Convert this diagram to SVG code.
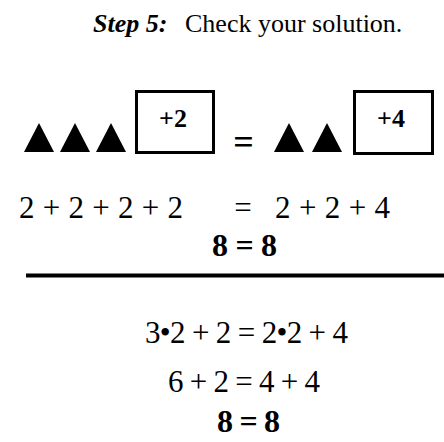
<svg xmlns="http://www.w3.org/2000/svg" width="444" height="442" viewBox="0 0 444 442">
<style>
.t{font-family:"Liberation Serif","Times New Roman",serif;fill:#000}
.b{font-weight:bold}
.tri{fill:#000}
.box{fill:#fff;stroke:#000;stroke-width:3}
</style>
<rect width="444" height="442" fill="#fff"/>
<g id="title">
<text class="t b" x="93" y="32" font-size="26" font-style="italic">Step 5:</text>
<text class="t" x="185" y="32" font-size="26">Check your solution.</text>
</g>
<g id="left-side">
<polygon class="tri" points="24,152 54,152 39,123"/>
<polygon class="tri" points="60,152 90,152 75,123"/>
<polygon class="tri" points="96,152 126,152 111,123"/>
<rect class="box" x="136.5" y="91.5" width="77" height="61"/>
<text class="t b" x="173" y="127" font-size="26" text-anchor="middle">+2</text>
</g>
<text class="t b" x="243.5" y="154" font-size="36" text-anchor="middle">=</text>
<g id="right-side">
<polygon class="tri" points="274,152 304,152 289,123"/>
<polygon class="tri" points="312,152 342,152 327,123"/>
<rect class="box" x="354.5" y="91.5" width="78" height="62"/>
<text class="t b" x="391" y="127" font-size="26" text-anchor="middle">+4</text>
</g>
<g id="check-1">
<text class="t" x="19" y="218" font-size="31" textLength="164" lengthAdjust="spacing">2 + 2 + 2 + 2</text>
<text class="t" x="243" y="218" font-size="31" text-anchor="middle">=</text>
<text class="t" x="275" y="218" font-size="31" textLength="115" lengthAdjust="spacing">2 + 2 + 4</text>
<text class="t b" x="212" y="256" font-size="32" textLength="65" lengthAdjust="spacing">8 = 8</text>
</g>
<line x1="26" y1="275.5" x2="444" y2="275.5" stroke="#000" stroke-width="4"/>
<g id="check-2">
<text class="t" x="145" y="343" font-size="31" textLength="203" lengthAdjust="spacing">3•2 + 2 = 2•2 + 4</text>
<text class="t" x="168" y="392" font-size="31" textLength="152" lengthAdjust="spacing">6 + 2 = 4 + 4</text>
<text class="t b" x="217" y="432" font-size="32" textLength="63" lengthAdjust="spacing">8 = 8</text>
</g>
</svg>
